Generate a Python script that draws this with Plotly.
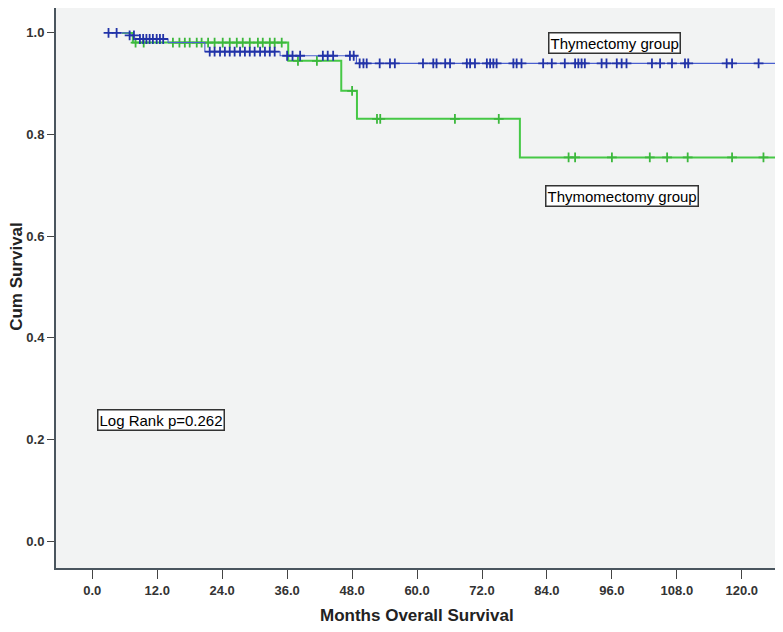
import plotly.graph_objects as go

# Kaplan-Meier steps (months, cumulative survival)
thymectomy_times = [2.9, 6.9, 8.8, 14.0, 20.8, 34.7, 48.8]
thymectomy_surv = [1.0, 0.995, 0.988, 0.981, 0.963, 0.955, 0.940]
thymectomy_censored = [3.0, 4.5, 6.9, 7.7, 8.8, 9.4, 10.0, 10.6, 11.2, 11.9, 12.5, 13.1,
                       21.7, 22.6, 23.6, 24.5, 25.4, 26.3, 27.3, 28.2, 29.1, 30.0, 31.0,
                       31.9, 32.8, 33.7, 36.0, 37.0, 38.4, 42.6, 43.5, 44.5, 47.6, 48.3,
                       49.4, 50.1, 50.7, 53.1, 55.0, 55.9, 61.1, 63.0, 63.6, 65.2, 66.1,
                       69.2, 69.8, 70.7, 72.9, 73.5, 74.1, 74.7, 77.8, 78.4, 79.3, 83.3,
                       84.9, 87.3, 89.2, 89.8, 90.4, 91.0, 94.1, 95.0, 96.9, 97.8, 98.7,
                       103.4, 104.9, 107.1, 109.5, 110.1, 117.2, 118.2, 123.1]

thymomectomy_times = [5.5, 7.5, 36.2, 46.0, 48.9, 79.0]
thymomectomy_surv = [1.0, 0.981, 0.945, 0.886, 0.831, 0.755]
thymomectomy_censored = [8.0, 9.5, 14.9, 16.1, 17.1, 18.0, 19.3, 20.2, 21.4, 22.6, 24.1,
                         25.4, 26.7, 27.8, 29.1, 30.6, 31.5, 32.8, 33.7, 35.0, 38.0, 41.5,
                         48.0, 52.6, 53.2, 67.0, 75.1, 88.0, 89.2, 96.0, 103.0, 106.2,
                         110.0, 118.2, 124.0]

last_followup = 126.5
x_ticks = [0, 12, 24, 36, 48, 60, 72, 84, 96, 108, 120]
y_ticks = [0.0, 0.2, 0.4, 0.6, 0.8, 1.0]


def surv_at(times, surv, t):
    s = surv[0]
    for ti, si in zip(times, surv):
        if ti <= t:
            s = si
    return s


fig = go.Figure()

groups = [
    ("Thymomectomy group", thymomectomy_times, thymomectomy_surv, thymomectomy_censored,
     "#46c846", "#3cb83c", 2),
    ("Thymectomy group", thymectomy_times, thymectomy_surv, thymectomy_censored,
     "#4a5fd0", "#2233a8", 1.1),
]

for name, times, surv, cens, col, mcol, w in groups:
    fig.add_trace(go.Scatter(
        x=times + [last_followup], y=surv + [surv[-1]],
        mode="lines", line=dict(color=col, width=w, shape="hv"),
        showlegend=False, name=name))
    fig.add_trace(go.Scatter(
        x=cens, y=[surv_at(times, surv, t) for t in cens],
        mode="markers",
        marker=dict(symbol="cross-thin", size=7, line=dict(color=mcol, width=1.8)),
        showlegend=False, name=name))

box = dict(showarrow=False, bgcolor="white", bordercolor="#333333", borderwidth=1.5,
           borderpad=1, font=dict(family="Liberation Sans, Arial", size=15, color="black"))
fig.add_annotation(x=96.4, y=0.980, text="Thymectomy group", **box)
fig.add_annotation(x=97.9, y=0.679, text="Thymomectomy group", **box)
fig.add_annotation(x=12.7, y=0.238, text="Log Rank p=0.262", **box)

title_font = dict(family="Liberation Sans, Arial", size=17, color="#222222")
fig.add_annotation(x=0.5, y=-0.084, xref="paper", yref="paper", showarrow=False,
                   text="<b>Months Overall Survival</b>", font=title_font,
                   xanchor="center", yanchor="middle")
fig.add_annotation(x=-0.054, y=0.52, xref="paper", yref="paper", showarrow=False,
                   text="<b>Cum Survival</b>", font=title_font, textangle=-90,
                   xanchor="center", yanchor="middle")

axis_font = dict(family="Liberation Sans, Arial", size=13, color="#333333")
fig.update_xaxes(
    range=[-6.7, 126.5], tickvals=x_ticks, ticktext=[f"<b>{v:.1f}</b>" for v in x_ticks],
    ticks="outside", ticklen=9, tickcolor="#444444", showgrid=False, zeroline=False,
    showline=True, linecolor="#4a555e", linewidth=2, mirror=True,
    tickfont=axis_font, automargin=False)
fig.update_yaxes(
    range=[-0.053, 1.049], tickvals=y_ticks, ticktext=[f"<b>{v:.1f}</b>" for v in y_ticks],
    ticks="outside", ticklen=7, tickcolor="#444444", showgrid=False, zeroline=False,
    showline=True, linecolor="#4a555e", linewidth=2, mirror=True,
    tickfont=axis_font, automargin=False)

fig.update_layout(
    width=775, height=624,
    margin=dict(l=48, r=6, t=0, b=64),
    plot_bgcolor="#f2f3f3", paper_bgcolor="white",
)

fig.write_html("out.html")
